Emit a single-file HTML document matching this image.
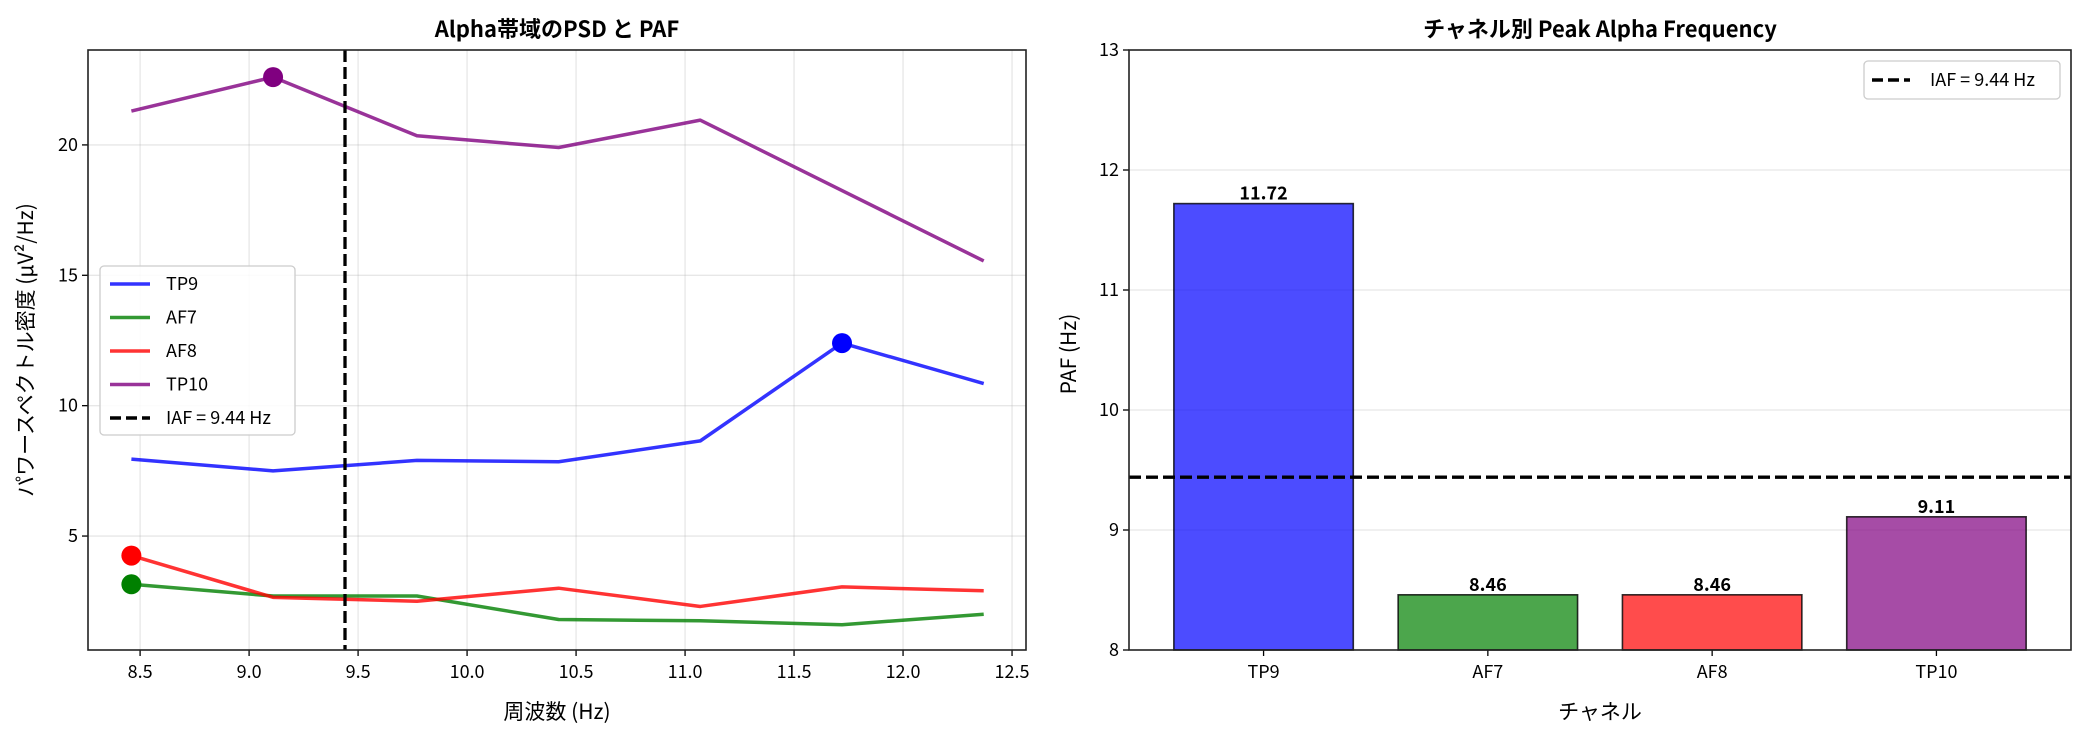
<!DOCTYPE html>
<html><head><meta charset="utf-8"><style>
html,body{margin:0;padding:0;background:#fff;}
svg{display:block;font-family:"Noto Sans CJK JP","Liberation Sans",sans-serif;}
</style></head><body>
<svg id="chart" width="2084" height="736" viewBox="0 0 2084 736" xmlns="http://www.w3.org/2000/svg"></svg>
<script>
const freqs=[8.46,9.11,9.77,10.42,11.07,11.72,12.37];
const tp9=[7.95,7.5,7.9,7.85,8.65,12.4,10.85];
const af7=[3.15,2.7,2.7,1.8,1.75,1.6,2.0];
const af8=[4.25,2.65,2.5,3.0,2.3,3.05,2.9];
const tp10=[21.3,22.6,20.35,19.9,20.95,18.25,15.55];
const seriesNames=["TP9","AF7","AF8","TP10"];
const peakIdx=[5,0,0,1];
const iaf=9.44;
const leftXTicks=[8.5,9.0,9.5,10.0,10.5,11.0,11.5,12.0,12.5];
const leftYTicks=[5,10,15,20];
const channels=["TP9","AF7","AF8","TP10"];
const pafValues=[11.72,8.46,8.46,9.11];
const rightYTicks=[8,9,10,11,12,13];

const NS="http://www.w3.org/2000/svg";
const svg=document.getElementById('chart');
function mk(tag,attrs,parent,text){const e=document.createElementNS(NS,tag);for(const k in attrs)e.setAttribute(k,attrs[k]);if(text!==undefined)e.textContent=text;(parent||svg).appendChild(e);return e;}
const colors=["#0000ff","#008000","#ff0000","#800080"];
const allSeries=[tp9,af7,af8,tp10];

const L={x0:88,x1:1026,y0:50,y1:650,xmin:8.261,xmax:12.564,ymin:0.63,ymax:23.64};
const lx=v=>L.x0+(v-L.xmin)/(L.xmax-L.xmin)*(L.x1-L.x0);
const ly=v=>L.y1-(v-L.ymin)/(L.ymax-L.ymin)*(L.y1-L.y0);
const gL=mk('g',{});


leftXTicks.forEach(t=>{
  const g=mk('line',{x1:lx(t),x2:lx(t),y1:L.y0,y2:L.y1,stroke:'#b0b0b0','stroke-opacity':0.3,'stroke-width':1.3},gL);
  
  mk('line',{x1:lx(t),x2:lx(t),y1:L.y1,y2:L.y1+6,stroke:'#000','stroke-width':1.3},gL);
  const tx=mk('text',{x:lx(t),y:L.y1+28,'font-size':18,'text-anchor':'middle'},gL,t.toFixed(1));
  
});
leftYTicks.forEach(t=>{
  const g=mk('line',{x1:L.x0,x2:L.x1,y1:ly(t),y2:ly(t),stroke:'#b0b0b0','stroke-opacity':0.3,'stroke-width':1.3},gL);
  
  mk('line',{x1:L.x0-6,x2:L.x0,y1:ly(t),y2:ly(t),stroke:'#000','stroke-width':1.3},gL);
  const tx=mk('text',{x:L.x0-10,y:ly(t)+6,'font-size':18,'text-anchor':'end'},gL,String(t));
  
});
allSeries.forEach((s,i)=>{
  const pts=s.map((v,j)=>lx(freqs[j])+','+ly(v)).join(' ');
  const pl=mk('polyline',{points:pts,fill:'none',stroke:colors[i],'stroke-opacity':0.8,'stroke-width':3.5,'stroke-linejoin':'round'},gL);
  
});
allSeries.forEach((s,i)=>{
  const p=peakIdx[i];
  const c=mk('circle',{cx:lx(freqs[p]),cy:ly(s[p]),r:10,fill:colors[i]},gL);
  
});
const iafL=mk('line',{x1:lx(iaf),x2:lx(iaf),y1:L.y0,y2:L.y1,stroke:'#000','stroke-width':3.3,'stroke-dasharray':'12,5'},gL);

mk('rect',{x:L.x0,y:L.y0,width:L.x1-L.x0,height:L.y1-L.y0,fill:'none',stroke:'#222','stroke-width':1.6},gL);
let t=mk('text',{x:(L.x0+L.x1)/2,y:37,'font-size':22,'font-weight':'bold','text-anchor':'middle'},gL,'Alpha帯域のPSD と PAF');

t=mk('text',{x:(L.x0+L.x1)/2,y:719,'font-size':21,'text-anchor':'middle'},gL,'周波数 (Hz)');

t=mk('text',{x:0,y:0,'font-size':21,'text-anchor':'middle',transform:'translate(33,350) rotate(-90)'},gL,'パワースペクトル密度 (µV²/Hz)');

const lg=mk('g',{},gL);

mk('rect',{x:100,y:266,width:195,height:169,rx:4,fill:'#fff','fill-opacity':0.85,stroke:'#ccc','stroke-width':1.3},lg);
const labs=seriesNames.concat(['IAF = 9.44 Hz']);
labs.forEach((n,i)=>{
  const y=284+i*33.5;
  mk('line',{x1:110,x2:150,y1:y,y2:y,stroke:i<4?colors[i]:'#000','stroke-opacity':i<4?0.8:1,'stroke-width':3.5,'stroke-dasharray':i<4?'none':'11,5'},lg);
  const tx=mk('text',{x:166,y:y+6,'font-size':18},lg,n);
  
});

const R={x0:1129,x1:2071,y0:50,y1:650,ymin:8,ymax:13};
const band=(R.x1-R.x0)/4.2;
const rx=i=>R.x0+(i+0.6)*band;
const ry=v=>R.y1-(v-R.ymin)/(R.ymax-R.ymin)*(R.y1-R.y0);
const gR=mk('g',{});

rightYTicks.forEach(v=>{
  if(v>8&&v<13){const g=mk('line',{x1:R.x0,x2:R.x1,y1:ry(v),y2:ry(v),stroke:'#b0b0b0','stroke-opacity':0.3,'stroke-width':1.3},gR);
  }
  mk('line',{x1:R.x0-6,x2:R.x0,y1:ry(v),y2:ry(v),stroke:'#000','stroke-width':1.3},gR);
  const tx=mk('text',{x:R.x0-10,y:ry(v)+6,'font-size':18,'text-anchor':'end'},gR,String(v));
  
});
pafValues.forEach((v,i)=>{
  const w=band*0.8;
  const b=mk('rect',{x:rx(i)-w/2,y:ry(v),width:w,height:R.y1-ry(v),fill:colors[i],'fill-opacity':0.7,stroke:'#000','stroke-opacity':0.8,'stroke-width':1.6},gR);
  
  const vl=mk('text',{x:rx(i),y:ry(v)-4,'font-size':18,'font-weight':'bold','text-anchor':'middle'},gR,v.toFixed(2));
  
  mk('line',{x1:rx(i),x2:rx(i),y1:R.y1,y2:R.y1+6,stroke:'#000','stroke-width':1.3},gR);
  const tx=mk('text',{x:rx(i),y:R.y1+28,'font-size':18,'text-anchor':'middle'},gR,channels[i]);
  
});
const iafR=mk('line',{x1:R.x0,x2:R.x1,y1:ry(iaf),y2:ry(iaf),stroke:'#000','stroke-width':3.3,'stroke-dasharray':'12,5'},gR);

mk('rect',{x:R.x0,y:R.y0,width:R.x1-R.x0,height:R.y1-R.y0,fill:'none',stroke:'#222','stroke-width':1.6},gR);
t=mk('text',{x:(R.x0+R.x1)/2,y:37,'font-size':22,'font-weight':'bold','text-anchor':'middle'},gR,'チャネル別 Peak Alpha Frequency');

t=mk('text',{x:(R.x0+R.x1)/2,y:719,'font-size':21,'text-anchor':'middle'},gR,'チャネル');

t=mk('text',{x:0,y:0,'font-size':21,'text-anchor':'middle',transform:'translate(1076,354) rotate(-90)'},gR,'PAF (Hz)');

const lg2=mk('g',{},gR);

mk('rect',{x:1864,y:61,width:196,height:38,rx:4,fill:'#fff','fill-opacity':0.85,stroke:'#ccc','stroke-width':1.3},lg2);
mk('line',{x1:1872,x2:1910,y1:80,y2:80,stroke:'#000','stroke-width':3.5,'stroke-dasharray':'11,5'},lg2);
t=mk('text',{x:1930,y:86,'font-size':18},lg2,'IAF = 9.44 Hz');

</script>
</body></html>
